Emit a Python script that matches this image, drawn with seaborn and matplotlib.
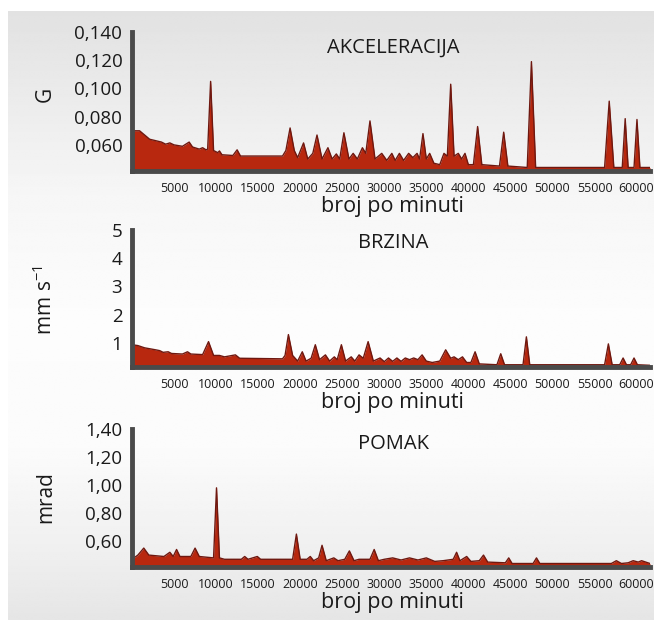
import numpy as np
import pandas as pd
import matplotlib
matplotlib.use("Agg")
import matplotlib.pyplot as plt
import seaborn as sns

# === data ===
acc_f = [0, 900, 1700, 2100, 3500, 3700, 4000, 4500, 5000, 6000, 6800, 7200, 8000, 8400,
         8800, 9000, 9350, 9700, 10200, 10400, 10700, 12000, 12500, 12900, 17900, 18300,
         18800, 19300, 19700, 20400, 20900, 21500, 22000, 22600, 23300, 23800, 24300, 24700,
         25200, 25800, 26300, 26800, 27400, 27800, 28300, 28900, 29700, 30300, 30900, 31300,
         31800, 32300, 32900, 33400, 33900, 34200, 34600, 35000, 35400, 35900, 36600, 37100,
         37500, 37900, 38300, 38800, 39200, 39600, 40000, 40600, 41100, 41600, 43700, 44200,
         44700, 47000, 47500, 48000, 56200, 56750, 57300, 58300, 58650, 59000, 59700, 60050,
         60400, 61600]
acc_g = [0.070, 0.070, 0.066, 0.064, 0.062, 0.0614, 0.0605, 0.0614, 0.060, 0.059, 0.062, 0.0585,
         0.057, 0.058, 0.0565, 0.057, 0.105, 0.056, 0.0545, 0.0557, 0.053, 0.0525, 0.0565,
         0.0521, 0.0521, 0.056, 0.072, 0.056, 0.051, 0.0614, 0.050, 0.054, 0.067, 0.050, 0.058,
         0.050, 0.0536, 0.050, 0.0686, 0.050, 0.054, 0.050, 0.058, 0.054, 0.077, 0.050, 0.054,
         0.049, 0.054, 0.049, 0.054, 0.049, 0.054, 0.051, 0.054, 0.050, 0.068, 0.050, 0.054,
         0.047, 0.046, 0.054, 0.052, 0.103, 0.052, 0.054, 0.050, 0.054, 0.046, 0.046, 0.073,
         0.046, 0.045, 0.069, 0.045, 0.044, 0.119, 0.044, 0.044, 0.091, 0.044, 0.044, 0.0786,
         0.044, 0.044, 0.078, 0.044, 0.044]

vel_f = [0, 700, 1500, 2800, 3300, 3700, 4300, 4700, 6000, 6600, 7000, 8400, 9100, 9700,
         10400, 11000, 12300, 12800, 17900, 18200, 18600, 19100, 19700, 20250, 20700, 21300,
         21800, 22300, 23000, 23500, 24060, 24400, 24900, 25400, 26070, 26500, 27000, 27500,
         28080, 28700, 29500, 30000, 30500, 31000, 31500, 32000, 32500, 33000, 33500, 34000,
         34500, 35000, 35700, 36600, 37300, 37900, 38300, 38800, 39300, 39800, 40300, 40800,
         41300, 43400, 43850, 44300, 46500, 46900, 47300, 56200, 56650, 57100, 58000, 58400,
         58800, 59300, 59700, 60100, 61600]
vel_mm = [0.93, 0.90, 0.82, 0.75, 0.72, 0.66, 0.68, 0.62, 0.60, 0.68, 0.60, 0.58, 1.04, 0.55,
          0.55, 0.50, 0.57, 0.45, 0.43, 0.55, 1.29, 0.55, 0.35, 0.68, 0.35, 0.45, 0.93, 0.40,
          0.57, 0.35, 0.50, 0.40, 0.93, 0.35, 0.50, 0.35, 0.57, 0.45, 1.04, 0.35, 0.46, 0.33,
          0.46, 0.34, 0.46, 0.34, 0.46, 0.40, 0.46, 0.40, 0.57, 0.35, 0.30, 0.35, 0.75, 0.45,
          0.50, 0.40, 0.50, 0.30, 0.30, 0.68, 0.25, 0.22, 0.61, 0.22, 0.22, 1.21, 0.22, 0.22,
          0.96, 0.22, 0.22, 0.46, 0.22, 0.22, 0.46, 0.22, 0.20]

dis_f = [0, 700, 1400, 2000, 3800, 4500, 4900, 5300, 5700, 7000, 7500, 8000, 9700, 10050,
         10400, 11000, 13000, 13400, 13800, 14900, 15300, 19100, 19550, 20000, 20800, 21200,
         21600, 22200, 22600, 23100, 24000, 24500, 25300, 25850, 26400, 27000, 28300, 28800,
         29300, 30000, 31000, 32000, 33000, 34000, 35000, 36000, 37000, 38200, 38600, 39000,
         39800, 40300, 41300, 41800, 42300, 44400, 44800, 45200, 47700, 48100, 48500, 57000,
         57600, 58200, 59000, 59600, 60200, 60600, 61600]
dis_mrad = [0.47, 0.50, 0.55, 0.50, 0.49, 0.52, 0.49, 0.54, 0.49, 0.49, 0.55, 0.49, 0.48, 0.98,
            0.48, 0.47, 0.47, 0.49, 0.47, 0.49, 0.47, 0.47, 0.65, 0.47, 0.47, 0.49, 0.46, 0.48,
            0.57, 0.46, 0.48, 0.46, 0.47, 0.53, 0.46, 0.47, 0.47, 0.54, 0.46, 0.47, 0.48, 0.465,
            0.48, 0.465, 0.48, 0.455, 0.46, 0.47, 0.52, 0.46, 0.49, 0.455, 0.46, 0.50, 0.45,
            0.445, 0.48, 0.44, 0.44, 0.48, 0.44, 0.44, 0.46, 0.44, 0.445, 0.46, 0.45, 0.46, 0.44]

acc_ticks = [0.060, 0.080, 0.100, 0.120, 0.140]
acc_labels = ["0,060", "0,080", "0,100", "0,120", "0,140"]
vel_ticks = [1, 2, 3, 4, 5]
vel_labels = ["1", "2", "3", "4", "5"]
dis_ticks = [0.60, 0.80, 1.00, 1.20, 1.40]
dis_labels = ["0,60", "0,80", "1,00", "1,20", "1,40"]
x_ticks = [5000, 10000, 15000, 20000, 25000, 30000, 35000, 40000, 45000, 50000, 55000, 60000]

titles = ["AKCELERACIJA", "BRZINA", "POMAK"]
ylabels = ["G", "mm s$^{-1}$", "mrad"]
xlabel = "broj po minuti"

# background gradient stops (fraction from top, gray level)
bg_pos = [0.0, 0.15, 0.30, 0.50, 0.72, 0.90, 1.0]
bg_gray = [0.885, 0.925, 0.965, 0.99, 0.985, 0.935, 0.90]

sns.set_theme(style="white")
plt.rcParams["font.family"] = ["Open Sans", "DejaVu Sans"]
plt.rcParams["mathtext.default"] = "regular"

W, H = 654, 620
fig = plt.figure(figsize=(W / 100, H / 100), dpi=100)
fig.patch.set_facecolor("white")

# gradient panel behind everything
bg = fig.add_axes([8 / W, 0, 1 - 8 / W, 1 - 11 / H], zorder=-10)
rows = np.interp(np.linspace(0, 1, 300), bg_pos, bg_gray)
bg.imshow(np.repeat(rows[:, None], 2, axis=1), cmap="gray", vmin=0, vmax=1,
          aspect="auto", interpolation="bilinear")
bg.axis("off")

spine_col = "#4a4a4a"
fill_col = "#b8280f"
edge_col = "#6e1810"
text_col = "#1a1a1a"

panels = [
    (acc_f, acc_g, acc_ticks, acc_labels, (0.0415, 0.140), 32, 171),
    (vel_f, vel_mm, vel_ticks, vel_labels, (0.14, 5.0), 230, 367),
    (dis_f, dis_mrad, dis_ticks, dis_labels, (0.415, 1.40), 429, 567),
]
title_y = [0.89, 0.905, 0.89]
ylabel_y = [0.55, 0.49, 0.51]

x0, x1 = 132, 650
for i, (f, v, yt, yl, ylim, top, bot) in enumerate(panels):
    ax = fig.add_axes([x0 / W, 1 - bot / H, (x1 - x0) / W, (bot - top) / H])
    ax.patch.set_alpha(0)
    df = pd.DataFrame({"f": f, "v": v})
    ax.fill_between(df["f"], ylim[0], df["v"], color=fill_col, lw=0, zorder=2)
    sns.lineplot(data=df, x="f", y="v", ax=ax, color=edge_col, lw=1.0, zorder=3)

    ax.set_xlim(0, 61600)
    ax.set_ylim(*ylim)
    ax.set_xticks(x_ticks)
    ax.set_xticklabels([str(t) for t in x_ticks], fontsize=8.9, color=text_col)
    ax.set_yticks(yt)
    ax.set_yticklabels(yl, fontsize=13.5, color=text_col)
    ax.tick_params(axis="y", direction="inout", length=8, width=2.5, color=spine_col, pad=3)
    ax.tick_params(axis="x", direction="inout", length=10, width=2, color=spine_col, pad=3)
    for s in ["top", "right"]:
        ax.spines[s].set_visible(False)
    for s in ["left", "bottom"]:
        ax.spines[s].set_color(spine_col)
        ax.spines[s].set_linewidth(3.5)
        ax.spines[s].set_zorder(5)

    ax.set_xlabel(xlabel, fontsize=15.5, color=text_col, va="top")
    ax.xaxis.set_label_coords(0.502, -25 / (bot - top))
    ax.set_ylabel(ylabels[i], fontsize=15, color=text_col, va="center")
    ax.yaxis.set_label_coords(-0.167, ylabel_y[i])
    ax.text(0.505, title_y[i], titles[i], transform=ax.transAxes, ha="center", va="center",
            fontsize=14.5, color=text_col)

fig.savefig("out.png", dpi=100)
